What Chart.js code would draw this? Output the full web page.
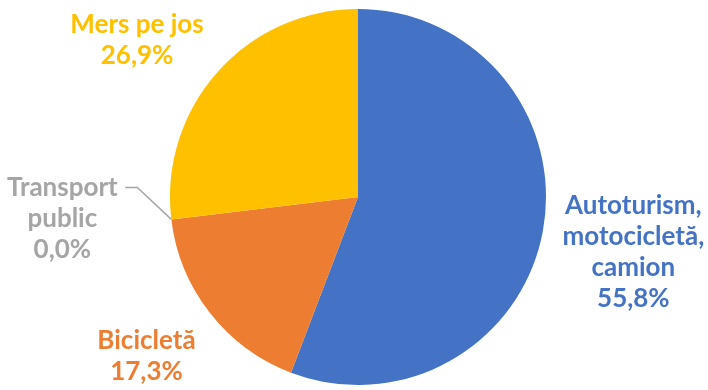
<!DOCTYPE html>
<html>
<head>
<meta charset="utf-8">
<script src="https://cdn.jsdelivr.net/npm/chart.js@4"></script>
<style>
  html, body { margin: 0; padding: 0; background: #fff; }
  #wrap { width: 708px; height: 390px; }
</style>
</head>
<body>
<div id="wrap"><canvas id="myChart"></canvas></div>
<script>
// data
const categories = [
    ['Autoturism,', 'motocicletă,', 'camion'],
    ['Bicicletă'],
    ['Transport', 'public'],
    ['Mers pe jos']
];
const shares = [55.8, 17.3, 0.0, 26.9];
const sliceColors = ['#4472C4', '#ED7D31', '#A5A5A5', '#FFC000'];

// label placement: distance from centre along slice mid-angle, plus nudge
const labelPlace = [
    { dist: 280, dx: 0, dy: 4 },
    { dist: 262, dx: -5, dy: -2 },
    { dist: 0, dx: -109, dy: -1, leader: true },
    { dist: 270, dx: -19, dy: 22 }
];

const fmt = v => v.toFixed(1).replace('.', ',') + '%';

const outsideLabels = {
    id: 'outsideLabels',
    afterDatasetsDraw(chart) {
        const c = chart.ctx;
        const meta = chart.getDatasetMeta(0);
        const lineH = 31;
        c.save();
        c.font = 'bold 26px Lato';
        c.textAlign = 'center';
        c.textBaseline = 'middle';
        meta.data.forEach((arc, i) => {
            const p = arc.getProps(['x', 'y', 'startAngle', 'endAngle', 'outerRadius'], true);
            const mid = (p.startAngle + p.endAngle) / 2;
            const place = labelPlace[i];
            let cx, cy;
            if (place.leader) {
                const ex = p.x + Math.cos(mid) * p.outerRadius;
                const ey = p.y + Math.sin(mid) * p.outerRadius;
                cx = ex + place.dx;
                cy = ey + place.dy;
                c.strokeStyle = '#A5A5A5';
                c.lineWidth = 1.5;
                c.beginPath();
                c.moveTo(ex, ey);
                c.lineTo(ex - 34, ey - 32);
                c.lineTo(ex - 46, ey - 32);
                c.stroke();
            } else {
                cx = p.x + Math.cos(mid) * place.dist + place.dx;
                cy = p.y + Math.sin(mid) * place.dist + place.dy;
            }
            const lines = categories[i].concat([fmt(shares[i])]);
            const top = cy - (lines.length - 1) * lineH / 2;
            c.fillStyle = sliceColors[i];
            lines.forEach((t, k) => c.fillText(t, cx, top + k * lineH));
        });
        c.restore();
    }
};

new Chart(document.getElementById('myChart'), {
    type: 'pie',
    data: {
        labels: categories.map(l => l.join(' ')),
        datasets: [{
            data: shares,
            backgroundColor: sliceColors,
            borderWidth: 0
        }]
    },
    options: {
        responsive: true,
        maintainAspectRatio: false,
        animation: false,
        layout: {
            padding: { top: 9, bottom: 5, left: 8, right: 0 }
        },
        plugins: {
            legend: { display: false },
            tooltip: { enabled: false }
        }
    },
    plugins: [outsideLabels]
});
</script>
</body>
</html>
